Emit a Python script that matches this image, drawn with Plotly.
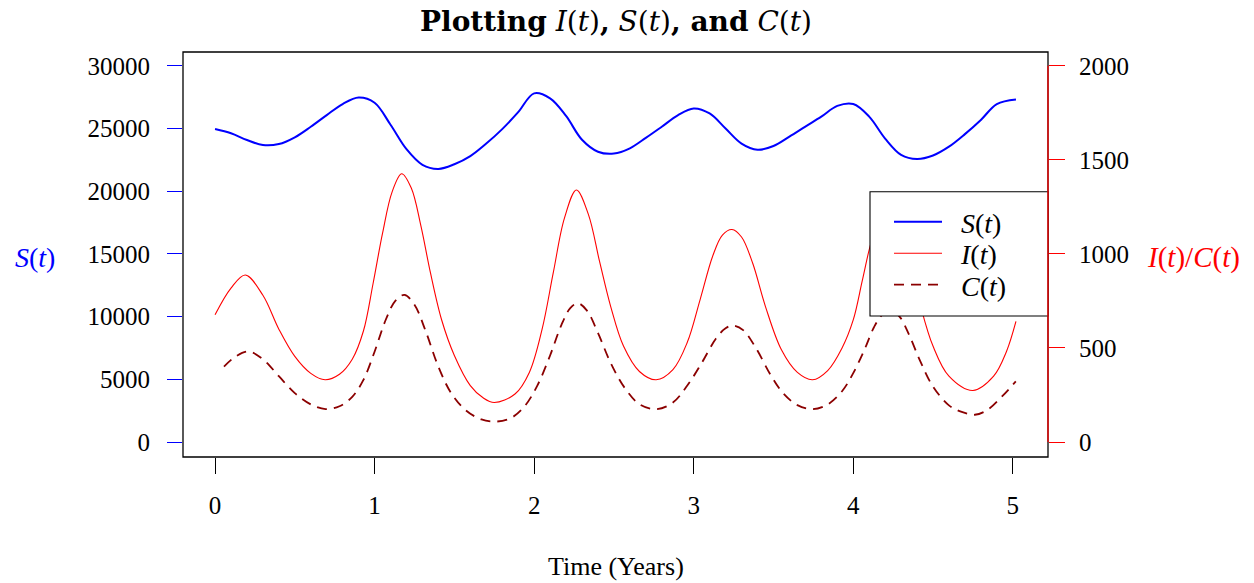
import plotly.graph_objects as go

# ---------------- data ----------------
t_S = [0, 0.1, 0.2, 0.3, 0.4, 0.5, 0.6, 0.7, 0.8, 0.9, 1.0, 1.1, 1.2, 1.3, 1.4, 1.5,
       1.6, 1.7, 1.8, 1.9, 2.0, 2.1, 2.2, 2.3, 2.4, 2.5, 2.6, 2.7, 2.8, 2.9, 3.0, 3.1,
       3.2, 3.3, 3.4, 3.5, 3.6, 3.7, 3.8, 3.9, 4.0, 4.1, 4.2, 4.3, 4.4, 4.5, 4.6, 4.7,
       4.8, 4.9, 5.02]
S_vals = [24960, 24620, 24080, 23680, 23760, 24300, 25140, 26070, 26950, 27470, 27050,
          25300, 23350, 22100, 21780, 22150, 22800, 23800, 24950, 26300, 27800, 27400,
          26000, 24100, 23150, 23000, 23420, 24250, 25140, 26050, 26600, 26200, 25000,
          23800, 23300, 23600, 24350, 25150, 25940, 26800, 26950, 25950, 24200, 22900,
          22570, 22850, 23550, 24550, 25680, 26950, 27320]

t_I = [0, 0.1, 0.19, 0.3, 0.4, 0.5, 0.6, 0.69, 0.78, 0.86, 0.93, 0.99, 1.05, 1.11,
       1.17, 1.23, 1.29, 1.35, 1.42, 1.5, 1.6, 1.68, 1.75, 1.88, 1.97, 2.05, 2.12,
       2.19, 2.265, 2.34, 2.41, 2.48, 2.56, 2.66, 2.765, 2.87, 2.96, 3.04, 3.12, 3.18,
       3.24, 3.3, 3.37, 3.45, 3.55, 3.65, 3.745, 3.84, 3.93, 4.0, 4.06, 4.12, 4.18,
       4.235, 4.29, 4.35, 4.42, 4.5, 4.6, 4.75, 4.88, 4.96, 5.02]
I_vals = [676, 818, 888, 780, 600, 455, 365, 331, 360, 440, 590, 840, 1110, 1330,
          1426, 1350, 1150, 900, 650, 460, 300, 235, 210, 255, 370, 600, 900,
          1190, 1340, 1210, 960, 720, 510, 375, 331, 385, 530, 756, 990, 1100,
          1130, 1090, 950, 720, 490, 370, 331, 380, 500, 649, 870, 1080, 1180,
          1200, 1150, 980, 730, 510, 350, 274, 350, 480, 641]

t_C = [0.056, 0.13, 0.21, 0.3, 0.4, 0.5, 0.6, 0.693, 0.78, 0.86, 0.93, 1.0, 1.07,
       1.13, 1.187, 1.25, 1.32, 1.4, 1.48, 1.57, 1.67, 1.768, 1.86, 1.94, 2.02, 2.1,
       2.17, 2.225, 2.273, 2.33, 2.4, 2.48, 2.57, 2.665, 2.77, 2.87, 2.96, 3.05, 3.14,
       3.2, 3.249, 3.31, 3.39, 3.48, 3.56, 3.65, 3.745, 3.84, 3.93, 4.0, 4.07, 4.13,
       4.18, 4.235, 4.29, 4.35, 4.42, 4.5, 4.6, 4.68, 4.762, 4.84, 4.93, 5.019]
C_vals = [401, 455, 481, 440, 350, 260, 200, 175, 190, 240, 330, 480, 650,
          750, 782, 730, 590, 400, 260, 170, 120, 109, 130, 190, 300, 460,
          620, 710, 738, 700, 580, 420, 285, 198, 175, 210, 300, 420, 550,
          605, 619, 595, 500, 360, 260, 196, 175, 200, 270, 366, 490, 610,
          675, 700, 667, 570, 430, 295, 195, 160, 145, 170, 240, 322]

x_ticks = [0, 1, 2, 3, 4, 5]
s_ticks = [0, 5000, 10000, 15000, 20000, 25000, 30000]
ic_ticks = [0, 500, 1000, 1500, 2000]

FONT = "Liberation Serif"
TFONT = "DejaVu Serif"
NB = "\u00a0\u00a0"

L, R, T, B = 183, 206, 52, 126
W, H = 1254, 583
pw, ph = W - L - R, H - T - B


def px(xp):
    return (xp - L) / pw


def py(yp):
    return (H - B - yp) / ph


fig = go.Figure()
fig.add_trace(go.Scatter(x=t_S, y=S_vals, mode="lines", name=NB + "<i>S</i>(<i>t</i>)",
                         line=dict(color="#0000FF", width=2, shape="spline", smoothing=1),
                         yaxis="y", legend="legend"))
fig.add_trace(go.Scatter(x=t_I, y=I_vals, mode="lines", name=NB + "<i>I</i>(<i>t</i>)",
                         line=dict(color="#FF0000", width=1.1, shape="spline", smoothing=1),
                         yaxis="y2", legend="legend2"))
fig.add_trace(go.Scatter(x=t_C, y=C_vals, mode="lines", name=NB + "<i>C</i>(<i>t</i>)",
                         line=dict(color="#8B0000", width=1.8, dash="10px,7px",
                                   shape="spline", smoothing=1),
                         yaxis="y2", legend="legend3"))


def leg(yrow):
    return dict(x=px(889), y=py(yrow), xanchor="left", yanchor="middle",
                bgcolor="rgba(0,0,0,0)", borderwidth=0,
                font=dict(family=FONT, size=28), itemwidth=48)


fig.update_layout(
    width=W, height=H, autosize=False,
    margin=dict(l=L, r=R, t=T, b=B, pad=0),
    paper_bgcolor="white", plot_bgcolor="white",
    font=dict(family=FONT, size=25, color="black"),
    showlegend=True,
    legend=leg(222), legend2=leg(253.5), legend3=leg(285),
    xaxis=dict(range=[-0.2008, 5.2208], tickvals=x_ticks, ticks="outside",
               ticklen=16, tickwidth=1, tickcolor="black", showgrid=False,
               zeroline=False, showline=False, ticklabelstandoff=10,
               tickfont=dict(family=FONT, size=25)),
    yaxis=dict(range=[-1195, 31100], tickvals=s_ticks, tickformat="d", ticks="outside",
               ticklen=15, tickwidth=1.2, tickcolor="#0000FF", showgrid=False,
               zeroline=False, showline=False, ticklabelstandoff=12,
               tickfont=dict(family=FONT, size=25)),
    yaxis2=dict(range=[-79.67, 2073.3], tickvals=ic_ticks, tickformat="d", ticks="outside",
                ticklen=16, tickwidth=1.2, tickcolor="#FF0000", showgrid=False,
                zeroline=False, showline=False, overlaying="y", side="right",
                ticklabelstandoff=9, tickfont=dict(family=FONT, size=25)),
    shapes=[
        dict(type="rect", xref="paper", yref="paper", x0=0, x1=1, y0=0, y1=1,
             line=dict(color="black", width=1.3), layer="above"),
        dict(type="rect", xref="paper", yref="paper", x0=px(870), x1=1, y0=py(316),
             y1=py(191.7), line=dict(color="black", width=1.1),
             fillcolor="white", layer="above"),
        dict(type="line", xref="paper", yref="y2", x0=1, x1=1, y0=0, y1=2000,
             line=dict(color="#FF0000", width=1.3), layer="above"),
    ],
    annotations=[
        dict(text="<b>Plotting</b> <i>I</i>(<i>t</i>)<b>,</b> <i>S</i>(<i>t</i>)<b>, and</b> <i>C</i>(<i>t</i>)",
             xref="paper", yref="paper", x=0.5, y=py(22), xanchor="center",
             yanchor="middle", showarrow=False, font=dict(family=TFONT, size=28)),
        dict(text="<i>S</i>(<i>t</i>)", xref="paper", yref="paper", x=px(34.5),
             y=py(257), xanchor="center", yanchor="middle", showarrow=False,
             font=dict(family=FONT, size=28, color="#0000FF")),
        dict(text="<i>I</i>(<i>t</i>)/<i>C</i>(<i>t</i>)", xref="paper", yref="paper",
             x=px(1193), y=py(257), xanchor="center", yanchor="middle",
             showarrow=False, font=dict(family=FONT, size=29, color="#FF0000")),
        dict(text="Time (Years)", xref="paper", yref="paper", x=0.5, y=py(566),
             xanchor="center", yanchor="middle", showarrow=False,
             font=dict(family=FONT, size=26)),
    ],
)

fig.write_html("out.html")
